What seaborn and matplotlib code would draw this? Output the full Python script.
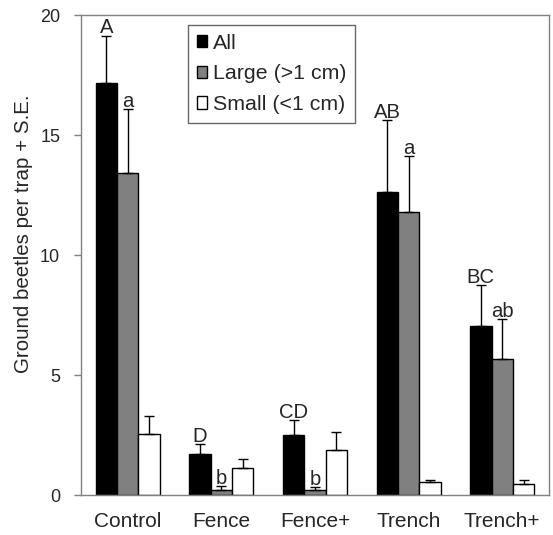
import matplotlib
matplotlib.use("Agg")
import matplotlib.pyplot as plt
import seaborn as sns
import pandas as pd
import numpy as np
from matplotlib.patches import Patch

categories = ["Control", "Fence", "Fence+", "Trench", "Trench+"]
series = ["All", "Large (>1 cm)", "Small (<1 cm)"]
all_vals = [17.17, 1.73, 2.51, 12.65, 7.03]
large_vals = [13.44, 0.22, 0.22, 11.78, 5.68]
small_vals = [2.55, 1.12, 1.87, 0.55, 0.48]
all_se = [1.97, 0.41, 0.61, 2.96, 1.72]
large_se = [2.64, 0.15, 0.11, 2.34, 1.65]
small_se = [0.75, 0.39, 0.77, 0.07, 0.14]
all_letters = ["A", "D", "CD", "AB", "BC"]
large_letters = ["a", "b", "b", "a", "ab"]

colors = ["#000000", "#808080", "#ffffff"]

rows = []
for s, vals, ses in zip(series, [all_vals, large_vals, small_vals], [all_se, large_se, small_se]):
    for c, v, e in zip(categories, vals, ses):
        rows.append({"Treatment": c, "Group": s, "Value": v, "SE": e})
df = pd.DataFrame(rows)

sns.set_style("white")
plt.rcParams["font.family"] = ["Liberation Sans", "DejaVu Sans"]

fig = plt.figure(figsize=(5.53, 5.35), dpi=100)
ax = fig.add_axes([81/553, 1-495.3/535, (549-81)/553, (495.3-15)/535])

sns.barplot(data=df, x="Treatment", y="Value", hue="Group", order=categories,
            hue_order=series, palette=colors, errorbar=None, width=0.685,
            gap=0, edgecolor="black", linewidth=1, ax=ax, legend=False, saturation=1)

# error bars (upper only) and significance letters
for i, (s, ses) in enumerate(zip(series, [all_se, large_se, small_se])):
    cont = ax.containers[i]
    for j, bar in enumerate(cont):
        xc = bar.get_x() + bar.get_width()/2
        h = bar.get_height()
        ax.errorbar([xc], [h], yerr=[[0], [ses[j]]], fmt="none", ecolor="black",
                    elinewidth=1, capsize=3.5, capthick=1, zorder=3)
        if i < 2:
            lab = all_letters[j] if i == 0 else large_letters[j]
            ax.text(xc, h + ses[j] + 0.1, lab, ha="center", va="baseline", fontsize=14.6)

ax.set_xlim(-0.5, 4.5)
ax.set_ylim(0, 20)
ax.set_yticks([0, 5, 10, 15, 20])
ax.set_xticks(range(5))
ax.set_xticklabels(categories)
ax.set_xticks(np.arange(-0.5, 5, 1), minor=True)
ax.tick_params(axis="x", which="major", length=0, pad=12, labelsize=15)
ax.tick_params(axis="x", which="minor", length=5, color="#808080", direction="out", width=1)
ax.tick_params(axis="y", length=5, color="#808080", direction="out", width=1, pad=10, labelsize=13, left=True)
ax.set_xlabel("")
ax.set_ylabel("Ground beetles per trap + S.E.", fontsize=14.8)
ax.yaxis.set_label_coords(-0.103, 0.545)
for sp in ax.spines.values():
    sp.set_color("#808080")
    sp.set_linewidth(1)
    sp.set_visible(True)

handles = [Patch(facecolor=c, edgecolor="black", linewidth=1) for c in colors]
leg = ax.legend(handles, series, loc="upper left", bbox_to_anchor=((188-81)/468, 1-(25-15)/480.3),
                fontsize=15.4, frameon=True, fancybox=False, edgecolor="#404040",
                handlelength=0.5, handleheight=0.5, handletextpad=0.25, borderpad=0.4,
                labelspacing=0.55, borderaxespad=0)
leg.get_frame().set_linewidth(1)

fig.savefig("out.png", dpi=100)
